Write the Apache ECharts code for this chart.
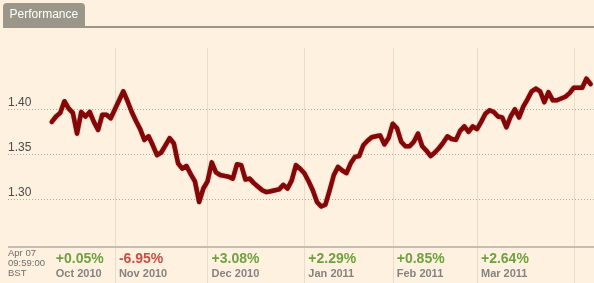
<!DOCTYPE html>
<html><head><meta charset="utf-8">
<script src="https://cdn.jsdelivr.net/npm/echarts@6/dist/echarts.min.js"></script>
<style>html,body{margin:0;padding:0;background:#fff1e0}#c{width:594px;height:283px}</style>
</head><body><div id="c"></div>
<script>
// Daily closes, 11 Oct 2010 .. 07 Apr 2011 (trading days)
const rate = [
  1.386,1.392,1.396,1.409,1.401,1.396,1.373,1.397,1.392,1.397,
  1.386,1.377,1.394,1.394,1.390,1.400,1.410,1.420,1.409,1.397,
  1.387,1.378,1.366,1.370,1.360,1.349,1.352,1.360,1.368,1.362,
  1.340,1.334,1.337,1.328,1.320,1.297,1.312,1.320,1.341,1.330,
  1.327,1.326,1.325,1.323,1.339,1.338,1.322,1.323,1.318,1.314,
  1.310,1.308,1.309,1.310,1.311,1.316,1.312,1.321,1.338,1.334,
  1.329,1.320,1.310,1.297,1.292,1.294,1.310,1.327,1.336,1.332,
  1.329,1.340,1.347,1.348,1.360,1.365,1.369,1.370,1.371,1.361,
  1.368,1.384,1.379,1.364,1.359,1.359,1.364,1.373,1.359,1.354,
  1.348,1.352,1.357,1.363,1.370,1.367,1.366,1.376,1.381,1.375,
  1.381,1.378,1.386,1.395,1.399,1.397,1.392,1.391,1.380,1.392,
  1.400,1.391,1.403,1.411,1.420,1.423,1.420,1.408,1.419,1.410,
  1.410,1.412,1.414,1.418,1.424,1.424,1.424,1.434,1.428
];
const yTicks = [1.30, 1.35, 1.40];
const months = ['Oct 2010','Nov 2010','Dec 2010','Jan 2011','Feb 2011','Mar 2011'];
const monthChange = ['+0.05%','-6.95%','+3.08%','+2.29%','+0.85%','+2.64%'];
const monthFirstDay = [0, 15, 37, 60, 81, 101];
const monthLines = [15, 37, 60, 81, 101, 124];
const stamp = ['Apr 07', '09:59:00', 'BST'];
const title = 'Performance';

const FONT = '"Liberation Sans", Arial, sans-serif';
const chart = echarts.init(document.getElementById('c'), null, {renderer: 'canvas'});
const xRange = {min: -10.4, max: 128.8};

chart.setOption({
  backgroundColor: '#fff1e0',
  animation: false,
  textStyle: {fontFamily: FONT},
  grid: [
    {left: 8, right: 0, top: 64.3, bottom: 38.7},
    {left: 8, right: 0, top: 48, bottom: 0}
  ],
  xAxis: [
    {type: 'value', gridIndex: 0, min: xRange.min, max: xRange.max, show: false},
    {type: 'value', gridIndex: 1, min: xRange.min, max: xRange.max, show: false}
  ],
  yAxis: [
    {type: 'value', gridIndex: 0, min: yTicks[0] - 0.05, max: yTicks[yTicks.length - 1] + 0.05, interval: 0.05,
     axisLine: {show: false}, axisTick: {show: false},
     axisLabel: {inside: true, margin: 0, verticalAlign: 'bottom', padding: [0, 0, 1, 0],
       showMinLabel: false, showMaxLabel: false, color: '#4a4a4a', fontSize: 12, fontFamily: FONT,
       formatter: v => v.toFixed(2)},
     splitLine: {show: true, showMinLine: false, showMaxLine: false,
       lineStyle: {type: [1, 2], color: '#b3aa9e', width: 1}}
    },
    {type: 'value', gridIndex: 1, min: 0, max: 235, show: false}
  ],
  graphic: [
    {type: 'rect', shape: {x: 3, y: 3, width: 82, height: 25, r: [4, 4, 0, 0]}, style: {fill: '#9a968a'}, silent: true},
    {type: 'rect', shape: {x: 85, y: 26, width: 509, height: 2}, style: {fill: '#9a968a'}, silent: true},
    {type: 'text', x: 9.5, y: 15, style: {text: title, fill: '#ffffff', font: '12px ' + FONT, textVerticalAlign: 'middle'}, silent: true},
    {type: 'text', x: 8, y: 249, style: {text: stamp.join('\n'), fill: '#6e6e6e', font: '9.5px ' + FONT, lineHeight: 9.7}, silent: true}
  ],
  series: [
    {
      type: 'scatter', xAxisIndex: 1, yAxisIndex: 1, z: 1, silent: true,
      symbolSize: 0,
      data: monthFirstDay.map((d, k) => ({
        value: [d, 17],
        label: {
          show: true, position: 'right', distance: 4,
          formatter: '{p|' + monthChange[k] + '}\n{m|' + months[k] + '}',
          rich: {
            p: {fontSize: 14, fontWeight: 'bold', lineHeight: 15, fontFamily: FONT,
                color: monthChange[k].charAt(0) === '-' ? '#bf2418' : '#4a8d18'},
            m: {fontSize: 11, fontWeight: 'bold', lineHeight: 13, fontFamily: FONT, color: '#666666'}
          }
        }
      })),
      markLine: {
        silent: true, symbol: ['none', 'none'], label: {show: false}, animation: false,
        data: monthLines.map(x => ({xAxis: x, lineStyle: {color: '#ebdcc9', width: 1, type: 'solid'}}))
          .concat([{yAxis: 36, lineStyle: {color: '#c6bdb1', width: 2, type: 'solid'}}])
      }
    },
    {
      type: 'line', xAxisIndex: 0, yAxisIndex: 0, z: 5,
      data: rate.map((v, i) => [i, v]),
      showSymbol: false, smooth: false,
      lineStyle: {color: '#850606', width: 4.5, join: 'round', cap: 'round',
        shadowColor: 'rgba(50,0,0,0.45)', shadowBlur: 1.5}
    }
  ]
});
</script>
</body></html>
